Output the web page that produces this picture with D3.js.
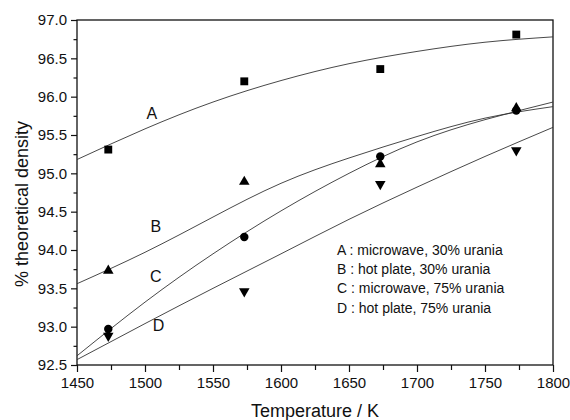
<!DOCTYPE html>
<html>
<head>
<meta charset="utf-8">
<script src="https://cdn.jsdelivr.net/npm/d3@7"></script>
<style>
  body { margin: 0; background: #fff; }
  text { font-family: "Liberation Sans", Arial, sans-serif; fill: #111; }
</style>
</head>
<body>
<svg width="570" height="420"></svg>
<script>
// measured points
const temps = [1473, 1573, 1673, 1773];
const densA = [95.31, 96.20, 96.36, 96.81];
const densB = [93.73, 94.89, 95.12, 95.85];
const densC = [92.97, 94.17, 95.22, 95.82];
const densD = [92.88, 93.46, 94.86, 95.30];

// fitted curves
const fitTemps = [1450, 1500, 1550, 1600, 1650, 1700, 1750, 1800];
const fitA = [95.18, 95.58, 95.93, 96.21, 96.43, 96.59, 96.71, 96.78];
const fitB = [93.56, 93.97, 94.43, 94.87, 95.20, 95.48, 95.72, 95.87];
const fitC = [92.62, 93.32, 93.95, 94.51, 95.00, 95.41, 95.70, 95.93];
const fitD = [92.57, 93.04, 93.50, 93.95, 94.40, 94.82, 95.22, 95.60];

const curveNames = ["A", "B", "C", "D"];
const curveLabelT = [1505, 1508, 1508, 1510];
const curveLabelV = [95.79, 94.31, 93.66, 93.02];

const legendLines = [
  "A : microwave, 30% urania",
  "B : hot plate, 30% urania",
  "C : microwave, 75% urania",
  "D : hot plate, 75% urania"
];

const xTicks = [1450, 1500, 1550, 1600, 1650, 1700, 1750, 1800];
const xMinor = [1475, 1525, 1575, 1625, 1675, 1725, 1775];
const yTicks = [92.5, 93.0, 93.5, 94.0, 94.5, 95.0, 95.5, 96.0, 96.5, 97.0];
const yMinor = [92.75, 93.25, 93.75, 94.25, 94.75, 95.25, 95.75, 96.25, 96.75];

const svg = d3.select("svg");
const plotL = 77, plotR = 553, plotT = 20, plotB = 365;

const x = d3.scaleLinear().domain([1450, 1800]).range([plotL, plotR]);
const y = d3.scaleLinear().domain([92.5, 97.0]).range([plotB, plotT]);

// frame
svg.append("rect")
  .attr("x", plotL).attr("y", plotT)
  .attr("width", plotR - plotL).attr("height", plotB - plotT)
  .attr("fill", "none").attr("stroke", "#111").attr("stroke-width", 1.3);

// x axis
const xAxis = svg.append("g").attr("transform", `translate(0,${plotB})`);
xAxis.call(d3.axisBottom(x).tickValues(xTicks).tickFormat(d3.format("d")).tickSize(7).tickPadding(5));
xAxis.append("g").call(d3.axisBottom(x).tickValues(xMinor).tickFormat("").tickSize(5));
xAxis.selectAll(".domain").remove();
xAxis.selectAll("line").attr("stroke", "#111").attr("stroke-width", 1.2);
xAxis.selectAll("text").style("font-size", "15px").attr("fill", "#111");

// y axis
const yAxis = svg.append("g").attr("transform", `translate(${plotL},0)`);
yAxis.call(d3.axisLeft(y).tickValues(yTicks).tickFormat(d3.format(".1f")).tickSize(6).tickPadding(4));
yAxis.append("g").call(d3.axisLeft(y).tickValues(yMinor).tickFormat("").tickSize(3.5));
yAxis.selectAll(".domain").remove();
yAxis.selectAll("line").attr("stroke", "#111").attr("stroke-width", 1.2);
yAxis.selectAll("text").style("font-size", "15px").attr("fill", "#111");

// axis titles
svg.append("text")
  .attr("x", (plotL + plotR) / 2).attr("y", 417)
  .attr("text-anchor", "middle")
  .style("font-size", "18px")
  .text("Temperature / K");

svg.append("text")
  .attr("transform", "translate(28,204) rotate(-90)")
  .attr("text-anchor", "middle")
  .style("font-size", "18px")
  .text("% theoretical density");

// fit curves
const line = d3.line()
  .x((d, i) => x(fitTemps[i]))
  .y(d => y(d))
  .curve(d3.curveNatural);

[fitA, fitB, fitC, fitD].forEach(f => {
  svg.append("path")
    .datum(f)
    .attr("d", line)
    .attr("fill", "none")
    .attr("stroke", "#333")
    .attr("stroke-width", 0.9);
});

// markers
const markers = [
  { vals: densA, type: d3.symbolSquare, size: 62, rot: 0 },
  { vals: densB, type: d3.symbolTriangle, size: 48, rot: 0 },
  { vals: densC, type: d3.symbolCircle, size: 56, rot: 0 },
  { vals: densD, type: d3.symbolTriangle, size: 48, rot: 180 }
];

markers.forEach(m => {
  svg.append("g")
    .selectAll("path")
    .data(m.vals)
    .join("path")
    .attr("d", d3.symbol().type(m.type).size(m.size))
    .attr("transform", (d, i) => `translate(${x(temps[i])},${y(d)}) rotate(${m.rot})`)
    .attr("fill", "#000");
});

// curve letters
svg.append("g")
  .selectAll("text")
  .data(curveNames)
  .join("text")
  .attr("x", (d, i) => x(curveLabelT[i]))
  .attr("y", (d, i) => y(curveLabelV[i]))
  .attr("dy", "0.36em")
  .attr("text-anchor", "middle")
  .style("font-size", "16px")
  .text(d => d);

// legend text
svg.append("g")
  .selectAll("text")
  .data(legendLines)
  .join("text")
  .attr("x", 337)
  .attr("y", (d, i) => 250 + i * 19.2)
  .attr("dy", "0.36em")
  .style("font-size", "14px")
  .text(d => d);
</script>
</body>
</html>
